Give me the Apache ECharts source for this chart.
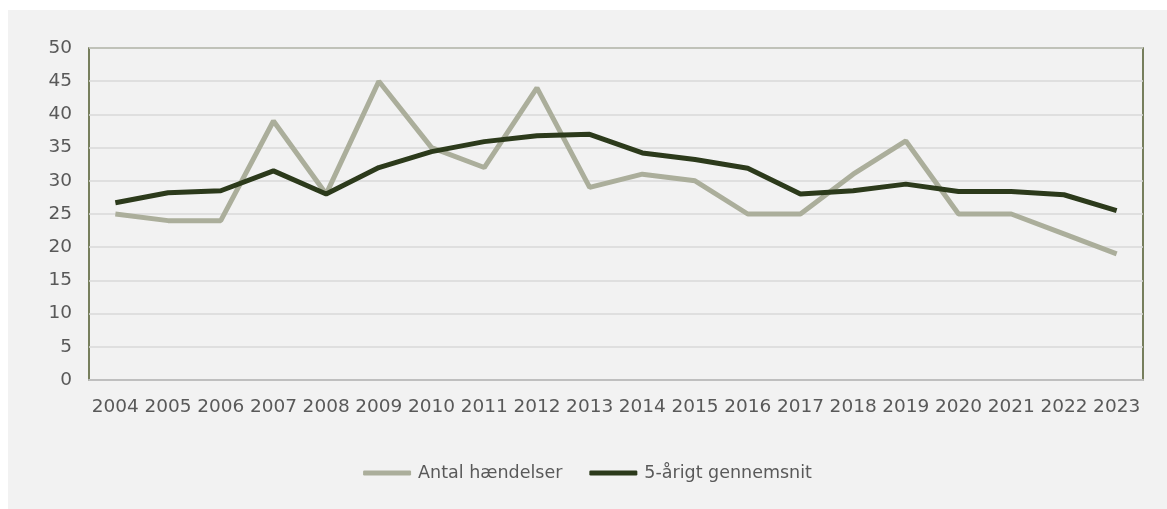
<!DOCTYPE html>
<html>
<head>
<meta charset="utf-8">
<script src="https://cdn.jsdelivr.net/npm/echarts@6/dist/echarts.min.js"></script>
<style>
  html, body { margin: 0; padding: 0; background: #ffffff; }
  #chart { position: absolute; left: 8px; top: 10px; width: 1159px; height: 499px; }
</style>
</head>
<body>
<div id="chart"></div>
<script>
const years = ['2004','2005','2006','2007','2008','2009','2010','2011','2012','2013',
  '2014','2015','2016','2017','2018','2019','2020','2021','2022','2023']
const antalHaendelser = [25, 24, 24, 39, 28, 45, 35, 32, 44, 29, 31, 30, 25, 25, 31, 36, 25, 25, 22, 19]
const femAarigtSnit = [26.7, 28.2, 28.5, 31.5, 28.0, 32.0, 34.4, 35.9, 36.8, 37.0,
  34.2, 33.2, 31.9, 28.0, 28.5, 29.5, 28.4, 28.4, 27.9, 25.5]
const yTicks = { min: 0, max: 50, interval: 5 }

const font = 'DejaVu Sans, Verdana, sans-serif'
const labelColor = '#595959'

const chart = echarts.init(document.getElementById('chart'))
chart.setOption({
  backgroundColor: '#f2f2f2',
  animation: false,
  textStyle: { fontFamily: font },
  grid: {
    left: 81,
    top: 38,
    right: 24,
    bottom: 129,
    show: true,
    borderColor: '#4f5a2c',
    borderWidth: 1.5,
    backgroundColor: 'transparent'
  },
  legend: {
    left: 'center',
    top: 449,
    icon: 'roundRect',
    itemWidth: 48,
    itemHeight: 5,
    itemGap: 27,
    textStyle: { color: labelColor, fontSize: 17.5, fontFamily: font, padding: [0, 0, 0, 2] },
    data: ['Antal hændelser', '5-årigt gennemsnit']
  },
  xAxis: {
    type: 'category',
    data: years,
    boundaryGap: true,
    axisLine: { show: true, lineStyle: { color: '#bfbfbf', width: 2 } },
    axisTick: { show: false },
    axisLabel: { interval: 0, color: labelColor, fontSize: 18.5, margin: 18, fontFamily: font }
  },
  yAxis: {
    type: 'value',
    min: yTicks.min,
    max: yTicks.max,
    interval: yTicks.interval,
    axisLine: { show: false },
    axisTick: { show: false },
    axisLabel: { color: labelColor, fontSize: 18.5, margin: 17, fontFamily: font },
    splitLine: { lineStyle: { color: '#d9d9d9', width: 1.5 } }
  },
  series: [
    {
      name: 'Antal hændelser',
      type: 'line',
      data: antalHaendelser,
      symbol: 'none',
      itemStyle: { color: '#abae9b' },
      lineStyle: { color: '#abae9b', width: 5 }
    },
    {
      name: '5-årigt gennemsnit',
      type: 'line',
      data: femAarigtSnit,
      symbol: 'none',
      itemStyle: { color: '#2c3a1b' },
      lineStyle: { color: '#2c3a1b', width: 5 }
    }
  ]
})
</script>
</body>
</html>
